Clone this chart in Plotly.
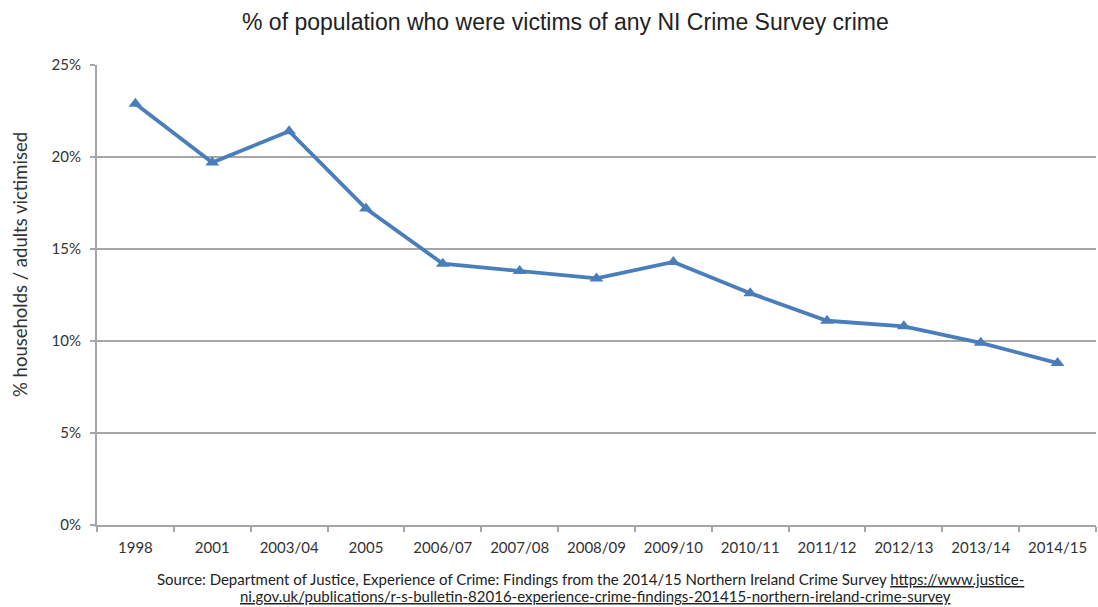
import plotly.graph_objects as go

categories = ["1998", "2001", "2003/04", "2005", "2006/07", "2007/08", "2008/09",
              "2009/10", "2010/11", "2011/12", "2012/13", "2013/14", "2014/15"]
victim_pct = [22.9, 19.7, 21.4, 17.2, 14.2, 13.8, 13.4, 14.3, 12.6, 11.1, 10.8, 9.9, 8.8]
y_ticks = [0, 5, 10, 15, 20, 25]
y_tick_labels = ["0%", "5%", "10%", "15%", "20%", "25%"]

W, H = 1098, 607
ML, MR, MT, MB = 97, 2, 65, 82
PW, PH = W - ML - MR, H - MT - MB

def px_x(x):
    return (x - ML) / PW

def px_y(y):
    return (H - MB - y) / PH

fig = go.Figure()
fig.add_trace(go.Scatter(
    x=categories, y=victim_pct, mode="lines+markers",
    line=dict(color="#4a7ebb", width=3.8),
    marker=dict(symbol="triangle-up", size=12, color="#4a7ebb"),
    showlegend=False, hoverinfo="x+y",
))

tick_font = dict(family="Lato, 'Open Sans', sans-serif", size=15, color="#333333")

fig.update_layout(
    width=W, height=H,
    margin=dict(l=ML, r=MR, t=MT, b=MB),
    paper_bgcolor="white", plot_bgcolor="white",
    xaxis=dict(
        type="category", tickson="boundaries", ticks="outside", ticklen=5,
        tickcolor="#a6a6a6", tickwidth=1.5,
        showline=True, linecolor="#a6a6a6", linewidth=2,
        showgrid=False, tickfont=tick_font, range=[-0.5, 12.5],
        ticklabelstandoff=8,
    ),
    yaxis=dict(
        range=[0, 25], tickvals=y_ticks, ticktext=y_tick_labels,
        ticks="outside", ticklen=5, tickcolor="#a6a6a6", tickwidth=1.5,
        showline=True, linecolor="#a6a6a6", linewidth=2,
        showgrid=True, gridcolor="#a6a6a6", gridwidth=1.5,
        tickfont=tick_font, zeroline=False, ticklabelstandoff=6,
    ),
)

fig.add_annotation(
    text="% of population who were victims of any NI Crime Survey crime",
    xref="paper", yref="paper", x=px_x(565), y=px_y(22),
    xanchor="center", yanchor="middle", showarrow=False,
    font=dict(family="'Liberation Sans', Arial, sans-serif", size=23, color="#222222"),
)

fig.add_annotation(
    text="% households / adults victimised",
    xref="paper", yref="paper", x=px_x(20), y=px_y(265),
    xanchor="center", yanchor="middle", showarrow=False, textangle=-90,
    font=dict(family="Lato, 'Open Sans', sans-serif", size=18.5, color="#333333"),
)

source_font = dict(family="Lato, 'Open Sans', sans-serif", size=15, color="#222222")
fig.add_annotation(
    text="Source: Department of Justice, Experience of Crime: Findings from the 2014/15 Northern Ireland Crime Survey "
         "<u>https://www.justice-</u>",
    xref="paper", yref="paper", x=px_x(590), y=px_y(579),
    xanchor="center", yanchor="middle", showarrow=False,
    font=source_font,
)
fig.add_annotation(
    text="<u>ni.gov.uk/publications/r-s-bulletin-82016-experience-crime-findings-201415-northern-ireland-crime-survey</u>",
    xref="paper", yref="paper", x=px_x(595), y=px_y(596),
    xanchor="center", yanchor="middle", showarrow=False,
    font=source_font,
)

fig.write_html("out.html")
